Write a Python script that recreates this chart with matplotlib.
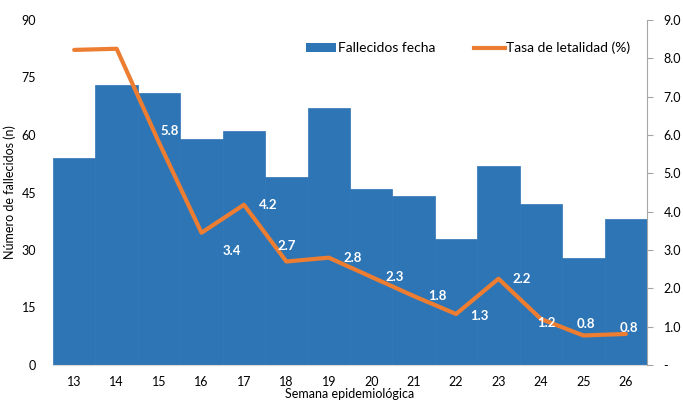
import matplotlib
matplotlib.use('Agg')
import matplotlib.pyplot as plt
from matplotlib.ticker import FuncFormatter
from matplotlib.patches import Patch
from matplotlib.lines import Line2D

plt.rcParams['font.family'] = ['Lato', 'DejaVu Sans']

semanas = [13, 14, 15, 16, 17, 18, 19, 20, 21, 22, 23, 24, 25, 26]
fallecidos = [54, 73, 71, 59, 61, 49, 67, 46, 44, 33, 52, 42, 28, 38]
letalidad = [8.22, 8.25, 5.8, 3.45, 4.18, 2.7, 2.8, 2.3, 1.8, 1.33, 2.25, 1.2, 0.77, 0.81]
etiquetas = [None, None, '5.8', '3.4', '4.2', '2.7', '2.8', '2.3', '1.8', '1.3', '2.2', '1.2', '0.8', '0.8']
# desplazamiento de cada etiqueta (px)
offsets = [None, None, (11, 12), (30, -18), (24, 0), (0, 16), (24, 0), (23, 0),
           (24, 0), (23, -2), (23, 0), (5, -4), (3, 11), (3, 6)]

blue = '#2E75B6'
orange = '#ED7D31'

fig = plt.figure(figsize=(6.83, 4.0), dpi=100)
ax = fig.add_axes([53/683, 35/400, (647-53)/683, (365-20)/400])
x = list(range(len(semanas)))
ax.bar(x, fallecidos, width=1.0, color=blue, edgecolor=blue, linewidth=0.5)
ax.set_xlim(-0.5, len(semanas) - 0.5)
ax.set_ylim(0, 90)
ax.set_yticks(range(0, 91, 15))
ax.set_xticks(x)
ax.set_xticklabels([str(s) for s in semanas])
ax.tick_params(axis='both', length=0, labelsize=9, colors='black')
ax.tick_params(axis='x', pad=8)
ax.tick_params(axis='y', pad=12)
for s in ['top', 'right', 'left']:
    ax.spines[s].set_visible(False)
ax.spines['bottom'].set_color('#D9D9D9')
ax.set_ylabel('Número de fallecidos (n)', fontsize=9, labelpad=4)
ax.set_xlabel('Semana epidemiológica', fontsize=9, labelpad=0)

ax2 = ax.twinx()
ax2.plot(x, letalidad, color=orange, linewidth=3, solid_capstyle='round')
ax2.set_ylim(0, 9)
ax2.set_yticks(range(0, 10))
ax2.yaxis.set_major_formatter(FuncFormatter(lambda v, p: '-' if v == 0 else f'{v:.1f}'))
ax2.tick_params(axis='y', direction='out', length=4, color='#A6A6A6', labelsize=9, pad=8)
for s in ['top', 'left', 'bottom']:
    ax2.spines[s].set_visible(False)
ax2.spines['right'].set_color('#A6A6A6')

for i, lab in enumerate(etiquetas):
    if lab is None:
        continue
    dx, dy = offsets[i]
    ax2.annotate(lab, (x[i], letalidad[i]), xytext=(dx * 0.72, dy * 0.72),
                 textcoords='offset points', ha='center', va='center',
                 color='white', fontsize=9.5, fontweight='bold')

handles = [Patch(facecolor=blue, label='Fallecidos fecha'),
           Line2D([0], [0], color=orange, linewidth=3, label='Tasa de letalidad (%)')]
fig.legend(handles=handles, loc='center', bbox_to_anchor=(468/683, 1 - 48/400), ncol=2,
           frameon=False, fontsize=10, handlelength=2.2, handleheight=0.6,
           handletextpad=0.1, columnspacing=2.8)

fig.savefig('out.png', dpi=100)
